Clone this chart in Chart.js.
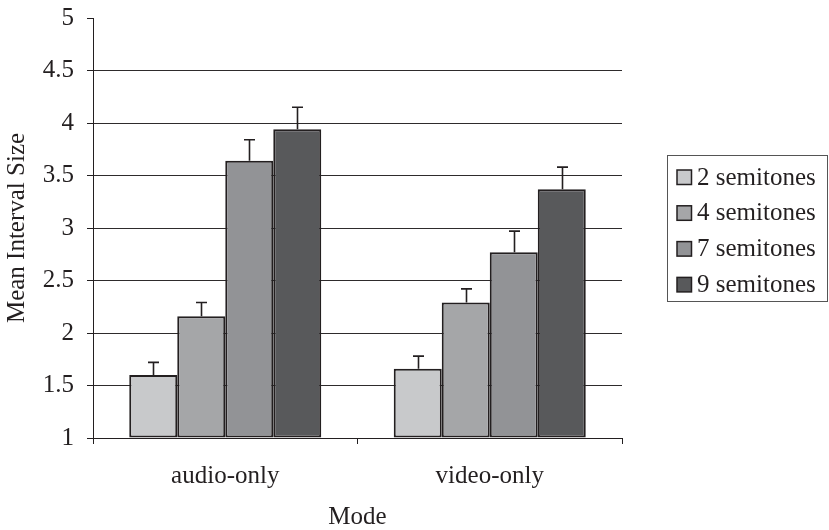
<!DOCTYPE html>
<html>
<head>
<meta charset="utf-8">
<script src="https://cdn.jsdelivr.net/npm/chart.js@4/dist/chart.umd.min.js"></script>
<style>
  html, body { margin: 0; padding: 0; background: #ffffff; }
  #wrap { width: 829px; height: 530px; position: relative; }
</style>
</head>
<body>
<div id="wrap"><canvas id="chart" width="829" height="530"></canvas></div>
<script>
// Mean interval size by presentation mode, with standard-error whiskers
const categories = ['audio-only', 'video-only'];
const seriesLabels = ['2 semitones', '4 semitones', '7 semitones', '9 semitones'];

const semitones2 = [1.60, 1.66];
const semitones4 = [2.16, 2.29];
const semitones7 = [3.64, 2.77];
const semitones9 = [3.94, 3.37];

const errors2 = [0.12, 0.12];
const errors4 = [0.13, 0.13];
const errors7 = [0.20, 0.20];
const errors9 = [0.21, 0.21];

const yTickValues = [1, 1.5, 2, 2.5, 3, 3.5, 4, 4.5, 5];

const seriesValues = [semitones2, semitones4, semitones7, semitones9];
const seriesErrors = [errors2, errors4, errors7, errors9];
const fills = ['#c8c9cb', '#a5a6a8', '#929396', '#58595b'];
const INK = '#231f20';
const FONT = "'Liberation Serif', 'Times New Roman', serif";

const errorBars = {
  id: 'errorBars',
  afterDatasetsDraw(chart) {
    const { ctx, scales: { y } } = chart;
    ctx.save();
    ctx.strokeStyle = INK;
    ctx.lineWidth = 1.6;
    chart.data.datasets.forEach((ds, di) => {
      const meta = chart.getDatasetMeta(di);
      meta.data.forEach((bar, i) => {
        const top = y.getPixelForValue(ds.data[i] + ds.errors[i]);
        const x = Math.round(bar.x) + 0.5;
        ctx.beginPath();
        ctx.moveTo(x, bar.y);
        ctx.lineTo(x, top);
        ctx.moveTo(x - 5.5, top);
        ctx.lineTo(x + 5.5, top);
        ctx.stroke();
      });
    });
    ctx.restore();
  }
};

const boxedLegend = {
  id: 'boxedLegend',
  afterDraw(chart) {
    const { ctx } = chart;
    const left = 667.5, top = 155.5, width = 160, height = 146;
    ctx.save();
    ctx.strokeStyle = '#555555';
    ctx.lineWidth = 1;
    ctx.strokeRect(left, top, width, height);
    ctx.font = '25px ' + FONT;
    ctx.textBaseline = 'alphabetic';
    ctx.textAlign = 'left';
    chart.data.datasets.forEach((ds, i) => {
      const base = 184.5 + i * 35.8;
      ctx.fillStyle = ds.backgroundColor;
      ctx.fillRect(677, base - 14.5, 14.5, 14.5);
      ctx.strokeStyle = INK;
      ctx.lineWidth = 1.5;
      ctx.strokeRect(677, base - 14.5, 14.5, 14.5);
      ctx.fillStyle = INK;
      ctx.fillText(ds.label, 697, base);
    });
    ctx.restore();
  }
};

new Chart(document.getElementById('chart'), {
  type: 'bar',
  data: {
    labels: categories,
    datasets: seriesLabels.map((label, i) => ({
      label,
      data: seriesValues[i],
      errors: seriesErrors[i],
      backgroundColor: fills[i],
      borderColor: INK,
      borderWidth: 2,
      borderSkipped: false,
      base: 1,
      barPercentage: 1,
      categoryPercentage: 0.726
    }))
  },
  options: {
    responsive: false,
    animation: false,
    devicePixelRatio: 1,
    layout: { padding: { top: 18, right: 207, left: 0, bottom: 0 } },
    plugins: {
      legend: { display: false },
      tooltip: { enabled: false }
    },
    scales: {
      x: {
        afterFit(scale) {
          scale.height = 92;
          scale.paddingLeft = 0;
          scale.paddingRight = 0;
        },
        grid: {
          display: true,
          drawOnChartArea: false,
          drawTicks: true,
          tickLength: 6,
          offset: true,
          color: INK,
          lineWidth: 1
        },
        border: { display: true, color: INK, width: 1 },
        ticks: {
          color: INK,
          padding: 17,
          font: { family: FONT, size: 25 }
        },
        title: {
          display: true,
          text: 'Mode',
          color: INK,
          padding: { top: 0, bottom: 0 },
          font: { family: FONT, size: 25, lineHeight: 1 }
        }
      },
      y: {
        min: 1,
        max: 5,
        afterFit(scale) {
          scale.width = 93;
          scale.paddingTop = 0;
          scale.paddingBottom = 0;
        },
        afterBuildTicks(scale) { scale.ticks = yTickValues.map(v => ({ value: v })); },
        grid: {
          color: ctx => (ctx.tick && ctx.tick.value === 5) ? 'rgba(0,0,0,0)' : '#2e2b2c',
          tickColor: INK,
          tickLength: 6,
          lineWidth: 1
        },
        border: { display: true, color: INK, width: 1 },
        ticks: {
          color: INK,
          padding: 13,
          font: { family: FONT, size: 25 },
          callback: v => String(v)
        },
        title: {
          display: true,
          text: 'Mean Interval Size',
          color: INK,
          padding: { top: 2, bottom: 0 },
          font: { family: FONT, size: 25, lineHeight: 1.2 }
        }
      }
    }
  },
  plugins: [errorBars, boxedLegend]
});
</script>
</body>
</html>
